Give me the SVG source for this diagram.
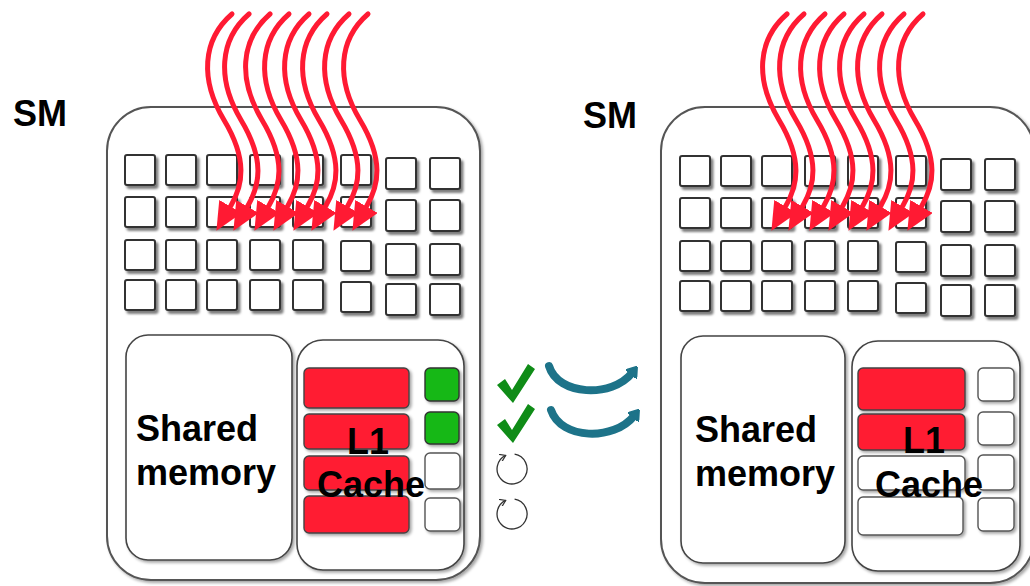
<svg xmlns="http://www.w3.org/2000/svg" xmlns:xlink="http://www.w3.org/1999/xlink" width="1030" height="586" viewBox="0 0 1030 586">
  <style>
    .frame { fill: #ffffff; stroke: #555555; stroke-width: 2; }
    .panel { fill: #ffffff; stroke: #444444; stroke-width: 1.6; }
    .core { fill: #ffffff; stroke: #333333; stroke-width: 2; }
    .line-full { fill: #ff1a30; stroke: #444444; stroke-width: 1.4; }
    .line-empty { fill: #ffffff; stroke: #555555; stroke-width: 1.4; }
    .tag-hit { fill: #12b812; stroke: #333333; stroke-width: 1.4; }
    .tag-empty { fill: #ffffff; stroke: #555555; stroke-width: 1.4; }
    .label { font-family: "Liberation Sans", Arial, sans-serif; font-weight: bold; font-size: 36px; fill: #000000; }
    .thread { fill: none; stroke: #ff1a33; stroke-width: 5; stroke-linecap: round; marker-end: url(#redHead); }
    .transfer { fill: none; stroke: #1d7389; stroke-width: 8; stroke-linecap: round; marker-end: url(#tealHead); }
    .wait { fill: none; stroke: #333333; stroke-width: 1.3; marker-end: url(#waitHead); }
    .check { fill: #0f8c17; }
  </style>
  <defs>
    <filter id="shadow" x="-20%" y="-20%" width="150%" height="150%">
      <feDropShadow dx="2.5" dy="3" stdDeviation="1.3" flood-color="#000000" flood-opacity="0.5"/>
    </filter>
    <filter id="softShadow" x="-10%" y="-10%" width="120%" height="120%">
      <feDropShadow dx="2" dy="2" stdDeviation="1.5" flood-color="#000000" flood-opacity="0.35"/>
    </filter>
    <marker id="redHead" markerUnits="userSpaceOnUse" viewBox="0 0 28 26" markerWidth="28" markerHeight="26" refX="0" refY="13" orient="auto">
      <path d="M0,0 L28,13 L0,26 Z" fill="#ff1a33"/>
    </marker>
    <marker id="tealHead" markerUnits="userSpaceOnUse" viewBox="0 0 10 14" markerWidth="10" markerHeight="14" refX="2" refY="7" orient="auto">
      <path d="M0,0 L10,7 L0,14 Z" fill="#1d7389" stroke="#1d7389" stroke-width="2" stroke-linejoin="round"/>
    </marker>
    <marker id="waitHead" markerUnits="userSpaceOnUse" viewBox="0 0 8 8" markerWidth="8" markerHeight="8" refX="6" refY="4" orient="auto">
      <path d="M0,0 L6,4 L0,8" fill="none" stroke="#333333" stroke-width="1.2"/>
    </marker>
    <!-- 8 x 4 block of cores -->
    <g id="coreGrid" filter="url(#shadow)">
      <rect class="core" x="125" y="155" width="30" height="30" rx="2"/>
      <rect class="core" x="166" y="155" width="30" height="30" rx="2"/>
      <rect class="core" x="207" y="155" width="30" height="30" rx="2"/>
      <rect class="core" x="250" y="155" width="30" height="30" rx="2"/>
      <rect class="core" x="293" y="155" width="30" height="30" rx="2"/>
      <rect class="core" x="341" y="155" width="30" height="30" rx="2"/>
      <rect class="core" x="386" y="158" width="30" height="31" rx="2"/>
      <rect class="core" x="430" y="158" width="30" height="31" rx="2"/>
      <rect class="core" x="125" y="197" width="30" height="30" rx="2"/>
      <rect class="core" x="166" y="197" width="30" height="30" rx="2"/>
      <rect class="core" x="207" y="197" width="30" height="30" rx="2"/>
      <rect class="core" x="250" y="197" width="30" height="30" rx="2"/>
      <rect class="core" x="293" y="197" width="30" height="30" rx="2"/>
      <rect class="core" x="341" y="197" width="30" height="30" rx="2"/>
      <rect class="core" x="386" y="200" width="30" height="31" rx="2"/>
      <rect class="core" x="430" y="200" width="30" height="31" rx="2"/>
      <rect class="core" x="125" y="240" width="30" height="30" rx="2"/>
      <rect class="core" x="166" y="240" width="30" height="30" rx="2"/>
      <rect class="core" x="207" y="240" width="30" height="30" rx="2"/>
      <rect class="core" x="250" y="240" width="30" height="30" rx="2"/>
      <rect class="core" x="293" y="240" width="30" height="30" rx="2"/>
      <rect class="core" x="341" y="241" width="30" height="30" rx="2"/>
      <rect class="core" x="386" y="244" width="30" height="31" rx="2"/>
      <rect class="core" x="430" y="244" width="30" height="31" rx="2"/>
      <rect class="core" x="125" y="280" width="30" height="30" rx="2"/>
      <rect class="core" x="166" y="280" width="30" height="30" rx="2"/>
      <rect class="core" x="207" y="280" width="30" height="30" rx="2"/>
      <rect class="core" x="250" y="280" width="30" height="30" rx="2"/>
      <rect class="core" x="293" y="280" width="30" height="30" rx="2"/>
      <rect class="core" x="341" y="282" width="30" height="30" rx="2"/>
      <rect class="core" x="386" y="284" width="30" height="31" rx="2"/>
      <rect class="core" x="430" y="284" width="30" height="31" rx="2"/>
    </g>
    <!-- one warp: 8 threads -->
    <g id="warp">
      <path class="thread" d="M232,14 C202,40 200,80 224,120 S243,185 230.5,206.5"/>
      <path class="thread" d="M249,14 C219,40 217,80 241,120 S260,185 247.5,206.5"/>
      <path class="thread" d="M270,14 C240,40 238,80 262,120 S281,185 268.5,206.5"/>
      <path class="thread" d="M289,14 C259,40 257,80 281,120 S300,185 287.5,206.5"/>
      <path class="thread" d="M309,14 C279,40 277,80 301,120 S320,185 307.5,206.5"/>
      <path class="thread" d="M327,14 C297,40 295,80 319,120 S338,185 325.5,206.5"/>
      <path class="thread" d="M349,14 C319,40 317,80 341,120 S360,185 347.5,206.5"/>
      <path class="thread" d="M368,14 C338,40 336,80 360,120 S379,185 366.5,206.5"/>
    </g>
  </defs>

  <!-- ===== Left SM ===== -->
  <g id="sm-left">
    <rect class="frame" x="107" y="107" width="373" height="473" rx="44" filter="url(#softShadow)"/>
    <text class="label" x="13" y="126">SM</text>
  </g>
  <g id="cores-left">
    <use xlink:href="#coreGrid"/>
  </g>
  <g id="shared-left">
    <rect class="panel" x="126" y="335" width="166" height="225" rx="22" filter="url(#softShadow)"/>
    <text class="label" x="136" y="441">Shared</text>
    <text class="label" x="136" y="485">memory</text>
  </g>
  <g id="l1-left">
    <rect class="panel" x="297" y="340" width="167" height="230" rx="26" filter="url(#softShadow)"/>
    <g filter="url(#softShadow)">
      <rect class="line-full" x="304" y="368" width="105" height="40" rx="5"/>
      <rect class="line-full" x="304" y="414" width="105" height="35" rx="5"/>
      <rect class="line-full" x="304" y="456" width="105" height="34" rx="5"/>
      <rect class="line-full" x="304" y="496" width="105" height="37" rx="5"/>
      <rect class="tag-hit" x="425" y="368" width="34" height="33" rx="5"/>
      <rect class="tag-hit" x="425" y="412" width="34" height="32" rx="5"/>
      <rect class="tag-empty" x="425" y="453" width="35" height="36" rx="5"/>
      <rect class="tag-empty" x="425" y="498" width="35" height="33" rx="5"/>
    </g>
    <text class="label" x="368" y="454" text-anchor="middle">L1</text>
    <text class="label" x="371" y="497" text-anchor="middle">Cache</text>
  </g>

  <!-- ===== Right SM ===== -->
  <g id="sm-right">
    <rect class="frame" x="661" y="107" width="373" height="476" rx="44" filter="url(#softShadow)"/>
    <text class="label" x="583" y="128">SM</text>
  </g>
  <g id="cores-right" transform="translate(555,1)">
    <use xlink:href="#coreGrid"/>
  </g>
  <g id="shared-right">
    <rect class="panel" x="681" y="336" width="164" height="227" rx="22" filter="url(#softShadow)"/>
    <text class="label" x="695" y="442">Shared</text>
    <text class="label" x="695" y="486">memory</text>
  </g>
  <g id="l1-right">
    <rect class="panel" x="852" y="341" width="168" height="230" rx="26" filter="url(#softShadow)"/>
    <g filter="url(#softShadow)">
      <rect class="line-full" x="858" y="368" width="107" height="42" rx="5"/>
      <rect class="line-full" x="858" y="414" width="107" height="36" rx="5"/>
      <rect class="line-empty" x="858" y="456" width="107" height="34" rx="5"/>
      <rect class="line-empty" x="858" y="497" width="105" height="38" rx="5"/>
      <rect class="tag-empty" x="978" y="368" width="36" height="33" rx="5"/>
      <rect class="tag-empty" x="978" y="412" width="36" height="33" rx="5"/>
      <rect class="tag-empty" x="978" y="455" width="36" height="35" rx="5"/>
      <rect class="tag-empty" x="978" y="498" width="36" height="33" rx="5"/>
    </g>
    <text class="label" x="924" y="453" text-anchor="middle">L1</text>
    <text class="label" x="929" y="497" text-anchor="middle">Cache</text>
  </g>

  <!-- ===== Request status ===== -->
  <g id="status">
    <path class="check" d="M497,385 L505,379 L512,390 L528,364 L535,369 L513,403 Z"/>
    <path class="check" d="M497,425 L505,419 L512,430 L528,404 L535,409 L513,443 Z"/>
    <path class="wait" d="M514.6,454.2 A15,15 0 1 1 505.7,455.4"/>
    <path class="wait" d="M514.6,499.2 A15,15 0 1 1 505.7,500.4"/>
  </g>

  <!-- ===== Connectors ===== -->
  <g id="connectors">
    <use xlink:href="#warp"/>
    <use xlink:href="#warp" transform="translate(555,0)"/>
    <path class="transfer" d="M549,366 C558,396 612,398 632,373"/>
    <path class="transfer" d="M551,410 C561,440 614,441 634,416"/>
  </g>
</svg>
